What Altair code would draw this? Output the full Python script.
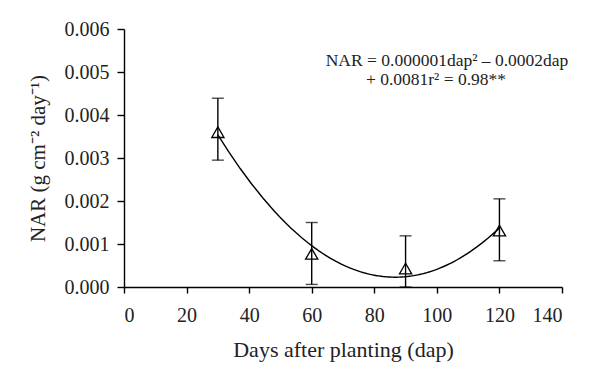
import altair as alt
import pandas as pd

dap = [30, 60, 90, 120]
nar = [0.0036, 0.00077, 0.00043, 0.00131]
err_hi = [0.00439, 0.0015, 0.00119, 0.00205]
err_lo = [0.00295, 0.00006, 0.0, 0.00061]

df = pd.DataFrame({"dap": dap, "nar": nar, "hi": err_hi, "lo": err_lo})

FONT = "Liberation Serif"

x = alt.X("dap:Q", scale=alt.Scale(domain=[0, 140], nice=False),
          axis=alt.Axis(values=list(range(0, 141, 20)), title="Days after planting (dap)"))
y = alt.Y("nar:Q", scale=alt.Scale(domain=[0, 0.006], nice=False),
          axis=alt.Axis(values=[0, 0.001, 0.002, 0.003, 0.004, 0.005, 0.006], format=".3f",
                        title="NAR (g cm\u207b\u00b2 day\u207b\u00b9)"))

base = alt.Chart(df)

curve = base.transform_regression("dap", "nar", method="poly", order=2, extent=[30, 120]).mark_line(
    color="black", strokeWidth=1.4).encode(x=x, y=y)

bars = base.mark_rule(color="black", strokeWidth=1.4).encode(x=x, y="hi:Q", y2="lo:Q")
cap_hi = base.mark_tick(color="black", size=12, thickness=1.4, orient="horizontal").encode(x=x, y="hi:Q")
cap_lo = base.mark_tick(color="black", size=12, thickness=1.4, orient="horizontal").encode(x=x, y="lo:Q")

pts = base.mark_point(shape="triangle-up", filled=False, color="black", size=150, strokeWidth=1.3,
                      opacity=1).encode(x=x, y=y)

eq1 = alt.Chart(pd.DataFrame({"t": ["NAR = 0.000001dap\u00b2 \u2013 0.0002dap"]})).mark_text(
    font=FONT, fontSize=17.5, color="#222", align="center", baseline="middle").encode(
    text="t:N", x=alt.value(323), y=alt.value(32))
eq2 = alt.Chart(pd.DataFrame({"t": ["+ 0.0081r\u00b2 = 0.98**"]})).mark_text(
    font=FONT, fontSize=17.5, color="#222", align="center", baseline="middle").encode(
    text="t:N", x=alt.value(312), y=alt.value(51))

chart = alt.layer(bars, cap_hi, cap_lo, curve, pts, eq1, eq2).properties(
    width=438, height=258,
    autosize=alt.AutoSizeParams(type="none"),
    padding={"left": 116, "top": 21, "right": 30, "bottom": 91},
).configure_view(stroke=None).configure_axis(
    grid=False, domainColor="black", domainWidth=1.4, tickColor="black", tickWidth=1.4,
    labelFont=FONT, titleFont=FONT, labelFontSize=20, titleFontSize=21,
    labelColor="#222", titleColor="#222", titleFontWeight="normal",
).configure_axisY(tickSize=7, labelPadding=8, titlePadding=16).configure_axisX(
    tickSize=6, labelPadding=12, titlePadding=14, titleFontSize=22)

chart.save("out.html", embed_options={"renderer": "svg", "actions": False})
